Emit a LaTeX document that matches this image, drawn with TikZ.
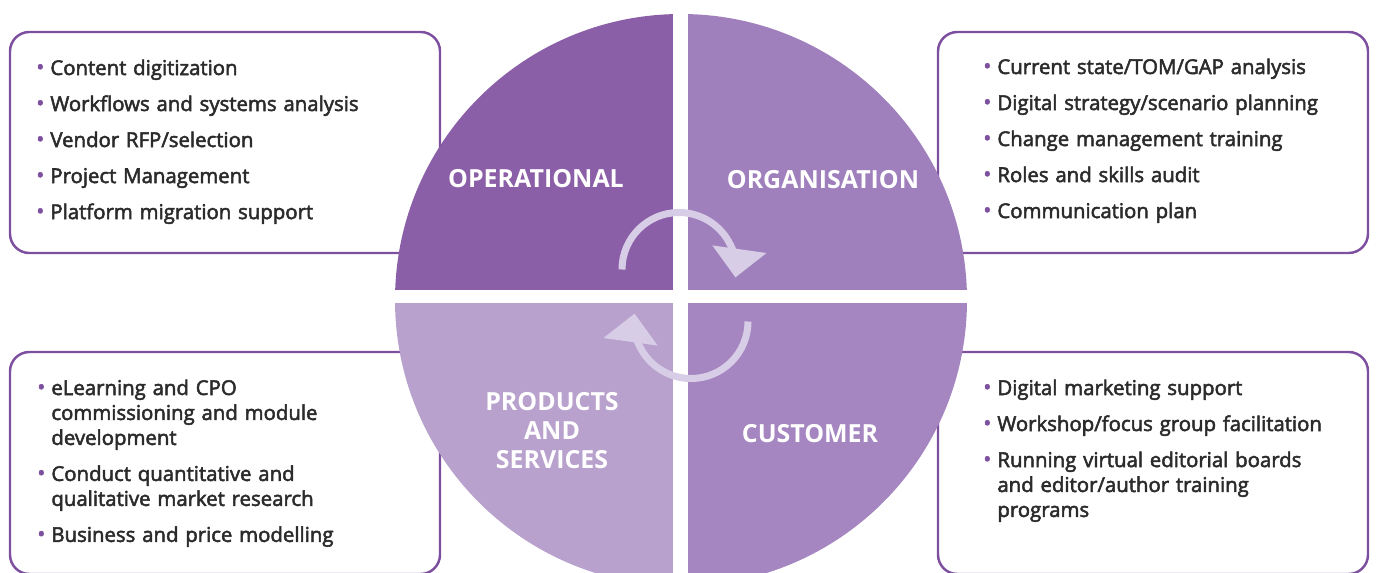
\documentclass[tikz,border=0pt]{standalone}
\usepackage{fontspec}
\setmainfont{Open Sans}
\newfontfamily\semib{Open Sans}[FakeBold=2.5]
\usetikzlibrary{arrows.meta,positioning}

\definecolor{opcol}{HTML}{8B5FA7}
\definecolor{orgcol}{HTML}{9F80BC}
\definecolor{prodcol}{HTML}{B8A1CD}
\definecolor{custcol}{HTML}{A586C0}
\definecolor{cyccol}{HTML}{D8CDE6}
\definecolor{boxcol}{HTML}{7D4F9F}
\definecolor{txtcol}{HTML}{2B2B2B}

\newlength{\bulw}\setlength{\bulw}{8pt}
\newcommand{\litem}[1]{\hangindent=\bulw\hangafter=1\noindent\makebox[\bulw][l]{\textcolor{boxcol}{\raisebox{.05ex}{\fontsize{12}{14}\selectfont •}}}#1\par}

\tikzset{
  panel/.style={draw=boxcol, line width=1.4pt, rounded corners=11pt, fill=white},
  quadlabel/.style={text=white, align=center, inner sep=0pt,
    font=\bfseries\fontsize{14.2}{16.5}\selectfont},
  itemlist/.style={text=txtcol, text width=9cm, inner sep=0pt, anchor=base west,
    font=\semib\fontsize{11.6}{14.2}\selectfont,
    execute at begin node={\raggedright\setlength{\parskip}{6.3pt}}},
  cycarrow/.style={draw=cyccol, line width=4pt,
    -{Triangle[width=1.06cm,length=0.57cm]}},
}

\begin{document}
\begin{tikzpicture}[x=0.02cm, y=-0.02cm]
\useasboundingbox (0,0) rectangle (1376,572);

% Boxes 
\draw[panel] (10,32) rectangle (440,253);
\draw[panel] (938,32) rectangle (1368,253);
\draw[panel] (10,352) rectangle (440,574);
\draw[panel] (938,352) rectangle (1368,574);

\path
(36,75)    node[itemlist] (oplist) {\litem{Content digitization}
  \litem{Workflows and systems analysis}
  \litem{Vendor RFP/selection}
  \litem{Project Management}
  \litem{Platform migration support}}
(983,74)   node[itemlist] (orglist) {\litem{Current state/TOM/GAP analysis}
  \litem{Digital strategy/scenario planning}
  \litem{Change management training}
  \litem{Roles and skills audit}
  \litem{Communication plan}}
(37,395)   node[itemlist] (prodlist) {\litem{eLearning and CPO\newline commissioning and module\newline development}
  \litem{Conduct quantitative and\newline qualitative market research}
  \litem{Business and price modelling}}
(983,395)  node[itemlist] (custlist) {\litem{Digital marketing support}
  \litem{Workshop/focus group facilitation}
  \litem{Running virtual editorial boards\newline and editor/author training\newline programs}}
;
% End boxes 

% Circle 
\coordinate (c) at (681,300);
\fill[opcol]   (c) -- +(180:286) arc[start angle=180, end angle=270, radius=286] -- cycle;
\fill[orgcol]  (c) -- +(270:286) arc[start angle=270, end angle=360, radius=286] -- cycle;
\fill[custcol] (c) -- +(0:286) arc[start angle=0, end angle=90, radius=286] -- cycle;
\fill[prodcol] (c) -- +(90:286) arc[start angle=90, end angle=180, radius=286] -- cycle;
\fill[white] (673,0) rectangle (688,600);
\fill[white] (380,290) rectangle (980,303);

\path
(536,179)  node[quadlabel] (op) {OPERATIONAL}
(823,180)  node[quadlabel] (org) {ORGANISATION}
(552,431)  node[quadlabel] (prod) {PRODUCTS\\AND\\SERVICES}
(810,434)  node[quadlabel] (cust) {CUSTOMER}
;

% cycle arrows
\coordinate (topc) at (679,269.5);
\coordinate (botc) at (691,321.5);
\draw[cycarrow] (topc) ++(180:57) arc[start angle=180, end angle=368, radius=57];
\draw[cycarrow] (botc) ++(0:57) arc[start angle=0, end angle=188, radius=57];

\end{tikzpicture}
\end{document}
